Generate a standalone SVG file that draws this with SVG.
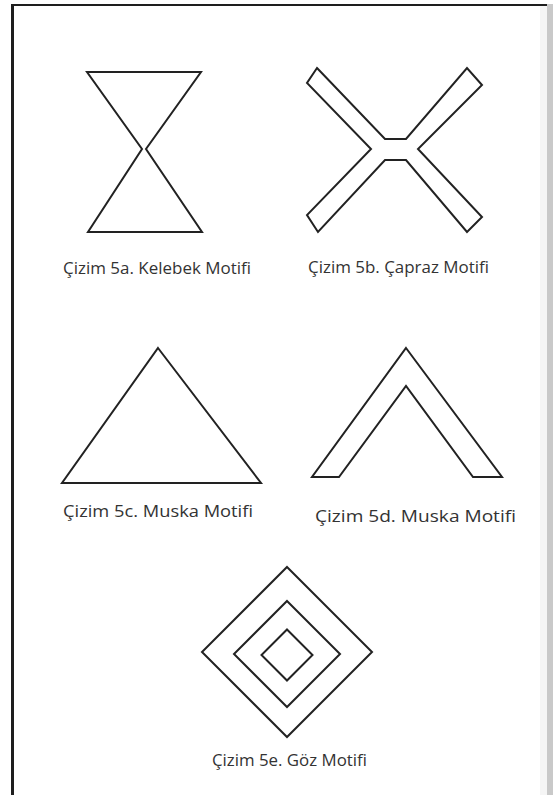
<svg xmlns="http://www.w3.org/2000/svg" width="553" height="795" viewBox="0 0 553 795">
<style>
.shape{fill:none;stroke:#222;stroke-width:2;stroke-linejoin:miter}
.lbl{font-family:"Open Sans","Liberation Sans",sans-serif;font-size:15.5px;fill:#333}
</style>
<rect x="0" y="0" width="553" height="795" fill="#fff"/>
<rect x="540" y="6" width="7" height="789" fill="#f5f5f5"/>
<rect x="547" y="4" width="6" height="791" fill="#c9c9c9"/>
<line x1="11" y1="5" x2="547" y2="5" stroke="#1e1e1e" stroke-width="2.2"/>
<line x1="12.5" y1="4" x2="12.5" y2="795" stroke="#1e1e1e" stroke-width="3"/>
<g id="kelebek">
<polygon class="shape" points="87,72 201,72 146,149 202,232 88,232 142,149"/>
<text class="lbl" x="63" y="274" textLength="188" lengthAdjust="spacingAndGlyphs">Çizim 5a. Kelebek Motifi</text>
</g>
<g id="capraz">
<polygon class="shape" points="317,68 385,139 406,139 467,68 482,85 418,149 482,217 467,232 406,160 385,160 318,232 307,215 371,149 307,83"/>
<text class="lbl" x="308" y="273" textLength="181" lengthAdjust="spacingAndGlyphs">Çizim 5b. Çapraz Motifi</text>
</g>
<g id="muska-c">
<polygon class="shape" points="158,348 261,483 62,483"/>
<text class="lbl" x="63" y="517" textLength="190" lengthAdjust="spacingAndGlyphs">Çizim 5c. Muska Motifi</text>
</g>
<g id="muska-d">
<polygon class="shape" points="406,348 502,477 473,477 406,386 339,477 312,477"/>
<text class="lbl" x="315" y="522" textLength="201" lengthAdjust="spacingAndGlyphs">Çizim 5d. Muska Motifi</text>
</g>
<g id="goz">
<polygon class="shape" points="287,567 372,652 287,737 202,652"/>
<polygon class="shape" points="287,601 340,654 287,707 234,654"/>
<polygon class="shape" points="287,629.5 312.5,655 287,680.5 261.5,655"/>
<text class="lbl" x="212" y="766" textLength="155" lengthAdjust="spacingAndGlyphs">Çizim 5e. Göz Motifi</text>
</g>
</svg>
